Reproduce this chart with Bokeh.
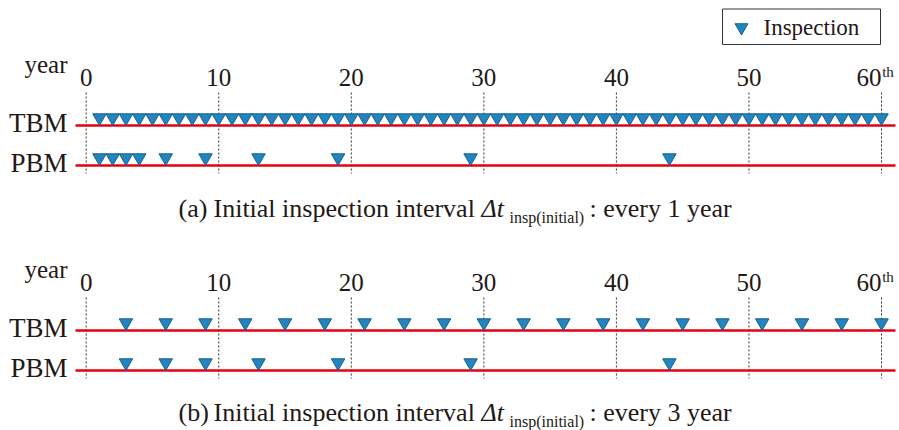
from bokeh.plotting import figure
from bokeh.models import Range1d, ColumnDataSource
from bokeh.core.properties import value
from bokeh.embed import file_html
from bokeh.resources import INLINE

# ---------------- data ----------------
tick_years = [0, 10, 20, 30, 40, 50]
tick_labels = ["0", "10", "20", "30", "40", "50"]
last_tick = 60
last_tick_label = "60"
last_tick_sup = "th"

rows = ["TBM", "PBM"]

# (a) initial interval every 1 year
tbm_a = list(range(1, 61))
pbm_a = [1, 2, 3, 4, 6, 9, 13, 19, 29, 44]
# (b) initial interval every 3 years
tbm_b = list(range(3, 61, 3))
pbm_b = [3, 6, 9, 13, 19, 29, 44]

captions = [
    ("(a)", "Initial inspection interval", "Δt", "insp(initial)", ": every 1 year"),
    ("(b)", "Initial inspection interval", "Δt", "insp(initial)", ": every 3 year"),
]
legend_label = "Inspection"

# ---------------- layout ----------------
W, H = 899, 430
PX0, PX60 = 85.7, 881.0          # page x of year 0 and year 60
SC = (PX60 - PX0) / 60.0
x0 = -PX0 / SC
x1 = x0 + W / SC


def yr(px):
    return (px - PX0) / SC


FONT = value("Liberation Serif")
TXT = "#231815"
TRI_FILL = "#2384be"
TRI_LINE = "#17618f"
RED = "#e60012"
TRI_SIZE = 13.5
TRI_OFF = 7.8

p = figure(width=W, height=H, output_backend="svg", toolbar_location=None,
           x_range=Range1d(x0, x1), y_range=Range1d(H, 0),
           min_border=0, outline_line_color=None)
p.axis.visible = False
p.grid.visible = False
p.background_fill_color = "white"


def label(px_list, base_y, texts, size, align="left", style="normal"):
    """place texts with their baseline at page y = base_y"""
    dy = 0.35 * size
    p.text(x=px_list, y=[b - dy for b in base_y], text=texts, text_font=FONT,
           text_font_size=f"{size}px", text_align=align, text_font_style=style,
           text_baseline="alphabetic", text_color=TXT)


panels = [
    dict(top=0, tbm=tbm_a, pbm=pbm_a, cap=captions[0], cap_y=217),
    dict(top=205, tbm=tbm_b, pbm=pbm_b, cap=captions[1], cap_y=421),
]

for pan in panels:
    o = pan["top"]
    line_y = {"TBM": 125 + o, "PBM": 165 + o}
    # dotted year lines
    xs = tick_years + [last_tick]
    p.segment(x0=xs, x1=xs, y0=[92 + o] * len(xs), y1=[173 + o] * len(xs),
              line_color="#333333", line_width=1, line_dash="2 2")
    # red baselines
    for r in rows:
        p.segment(x0=[yr(75)], x1=[yr(895)], y0=[line_y[r]], y1=[line_y[r]],
                  line_color=RED, line_width=2.5)
    # row labels
    label([yr(67)] * 2, [line_y[r] + 7 for r in rows], rows, 27, "right")
    # year label + ticks
    label([yr(67)], [73 + o], ["year"], 25, "right")
    label(tick_years, [86 + o] * len(tick_years), tick_labels, 25, "center")
    label([last_tick], [86 + o], [last_tick_label], 25, "right")
    label([last_tick + 0.05], [77 + o], [last_tick_sup], 15, "left")
    # inspections
    for r, data in (("TBM", pan["tbm"]), ("PBM", pan["pbm"])):
        src = ColumnDataSource(dict(x=data, y=[line_y[r] - TRI_OFF] * len(data)))
        p.scatter("x", "y", source=src, marker="inverted_triangle", size=TRI_SIZE,
                  fill_color=TRI_FILL, line_color=TRI_LINE, line_width=1)
    # caption
    c = pan["cap"]
    by = pan["cap_y"]
    label([yr(178)], [by], [c[0]], 26)
    label([yr(213)], [by], [c[1]], 26)
    label([yr(481)], [by], [c[2]], 26, style="italic")
    label([yr(509)], [by + 6], [c[3]], 16)
    label([yr(589)], [by], [c[4]], 26)

# legend box
p.quad(left=[yr(722)], right=[yr(880)], top=[8.5], bottom=[44], fill_color="white",
       line_color="#333333", line_width=1)
p.scatter(x=[yr(741)], y=[27], marker="inverted_triangle", size=13,
          fill_color=TRI_FILL, line_color=TRI_LINE, line_width=1)
label([yr(763)], [35], [legend_label], 23)

open("out.html", "w").write(file_html(p, INLINE))
